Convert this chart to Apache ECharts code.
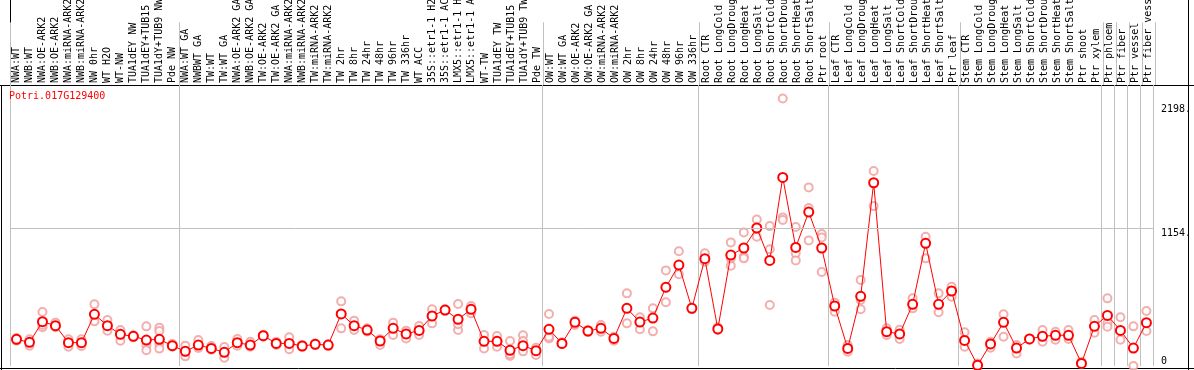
<!DOCTYPE html>
<html>
<head>
<meta charset="utf-8">
<style>
  html, body { margin: 0; padding: 0; background: #fff; }
  #chart { width: 1194px; height: 370px; }
</style>
<script src="https://cdn.jsdelivr.net/npm/echarts@6/dist/echarts.min.js"></script>
</head>
<body>
<div id="chart"></div>
<script>
const geneId = "Potri.017G129400";

const samples = [
  "NWA:WT", "NWB:WT", "NWA:OE-ARK2", "NWB:OE-ARK2", "NWA:miRNA-ARK2", "NWB:miRNA-ARK2",
  "NW 0hr", "WT H2O", "WT-NW", "TUA1dEY NW", "TUA1dEY+TUB15 NW", "TUA1dY+TUB9 NW", "Pde NW",
  "NWA:WT GA", "NWBWT GA", "TW:WT", "TW:WT GA", "NWA:OE-ARK2 GA", "NWB:OE-ARK2 GA",
  "TW:OE-ARK2", "TW:OE-ARK2 GA", "NWA:miRNA-ARK2 GA", "NWB:miRNA-ARK2 GA", "TW:miRNA-ARK2",
  "TW:miRNA-ARK2 GA", "TW 2hr", "TW 8hr", "TW 24hr", "TW 48hr", "TW 96hr", "TW 336hr",
  "WT ACC", "35S::etr1-1 H2O", "35S::etr1-1 ACC", "LMX5::etr1-1 H2O", "LMX5::etr1-1 ACC",
  "WT-TW", "TUA1dEY TW", "TUA1dEY+TUB15 TW", "TUA1dY+TUB9 TW", "Pde TW",
  "OW:WT", "OW:WT GA", "OW:OE-ARK2", "OW:OE-ARK2 GA", "OW:miRNA-ARK2", "OW:miRNA-ARK2 GA",
  "OW 2hr", "OW 8hr", "OW 24hr", "OW 48hr", "OW 96hr", "OW 336hr",
  "Root CTR", "Root LongCold", "Root LongDrought", "Root LongHeat", "Root LongSalt",
  "Root ShortCold", "Root ShortDrought", "Root ShortHeat", "Root ShortSalt", "Ptr root",
  "Leaf CTR", "Leaf LongCold", "Leaf LongDrought", "Leaf LongHeat", "Leaf LongSalt",
  "Leaf ShortCold", "Leaf ShortDrought", "Leaf ShortHeat", "Leaf ShortSalt", "Ptr leaf",
  "Stem CTR", "Stem LongCold", "Stem LongDrought", "Stem LongHeat", "Stem LongSalt",
  "Stem ShortCold", "Stem ShortDrought", "Stem ShortHeat", "Stem ShortSalt", "Ptr shoot",
  "Ptr xylem", "Ptr phloem", "Ptr fiber", "Ptr vessel", "Ptr fiber vessel"
];

const means = [
  224, 199, 372, 339, 196, 196, 434, 339, 266, 249, 218, 224, 171,
  123, 176, 148, 115, 196, 176, 255, 190, 190, 168, 182, 176, 437, 339, 302, 210, 316, 269,
  299, 420, 470, 392, 476, 207, 207, 132, 171, 129,
  308, 190, 367, 294, 316, 232, 484, 369, 403, 661, 848, 484,
  901, 311, 932, 991, 1159, 887, 1584, 996, 1293, 991,
  504, 148, 585, 1539, 288, 269, 518, 1030, 518, 630,
  215, 6, 185, 367, 151, 227, 249, 258, 258, 22,
  333, 425, 299, 151, 364
];

const replicates = [
  [235, 213], [224, 171], [453, 325, 344], [364, 325], [224, 162], [224, 168],
  [518, 375], [386, 297], [302, 213, 266], [258, 241], [333, 174, 132], [322, 294, 190, 146], [185, 162],
  [171, 81], [218, 151], [168, 137], [160, 70], [227, 171], [204, 162],
  [263, 246], [204, 176], [241, 140], [176, 162], [190, 176],
  [182, 168], [543, 316], [381, 302], [316, 290], [176, 224], [364, 260], [297, 232],
  [336, 260], [476, 358], [476, 462], [521, 302, 350], [504, 442],
  [260, 148], [252, 162], [210, 84, 98], [258, 123, 210], [154, 92],
  [437, 232, 246], [200, 182], [381, 344], [302, 286], [344, 288], [213, 246],
  [610, 358], [409, 308], [484, 291], [803, 535], [963, 770], [490, 478],
  [946, 876], [325, 302], [1038, 842, 904], [1122, 918, 904], [1231, 1086],
  [1175, 980, 512], [2247, 1248, 1226], [1167, 946, 887], [1500, 1327, 1055], [1108, 1080, 789],
  [532, 456], [176, 120], [722, 554, 476], [1637, 1343], [316, 260],
  [305, 227], [568, 484], [1086, 1030, 904], [610, 451], [666, 582],
  [283, 162], [22, 0], [204, 154], [434, 246], [176, 106],
  [232, 221], [302, 204], [288, 221], [302, 227], [36, 17],
  [386, 280], [568, 358, 330], [409, 221], [333, 0], [462, 294]
];

// first sample of each block (grey separators)
const groupStarts = [0, 13, 41, 53, 63, 73, 84, 85, 86, 87];
const yLabelValues = [1154, 2198];
const yZeroLabel = [0];
const refLine = 1154;
const yMax = 2360;

const mono = "'DejaVu Sans Mono', monospace";
const grey = "#c0c0c0";

let repPoints = [];
replicates.forEach((reps, i) => {
  reps.forEach(v => repPoints.push([i, v]));
});

const sepLine = {
  show: true,
  interval: (idx) => groupStarts.indexOf(idx) >= 0,
  lineStyle: { color: grey, width: 1 }
};

const chart = echarts.init(document.getElementById("chart"));
chart.setOption({
  animation: false,
  backgroundColor: "#fff",
  title: {
    text: geneId,
    left: 9,
    top: 91,
    padding: 0,
    textStyle: { color: "#ff0000", fontSize: 10, fontWeight: "normal", fontFamily: mono }
  },
  grid: [
    { left: 10, right: 39, top: 85, bottom: 4 },
    { left: 10, right: 39, top: 0, height: 85 }
  ],
  xAxis: [
    {
      type: "category", gridIndex: 0, data: samples,
      axisLine: { show: false }, axisTick: { show: false }, axisLabel: { show: false },
      splitLine: sepLine
    },
    {
      type: "category", gridIndex: 1, data: samples, position: "bottom",
      axisLine: { show: false }, axisTick: { show: false },
      axisLabel: {
        inside: true, rotate: 90, interval: 0, margin: 2,
        color: "#000", fontSize: 10, fontFamily: mono
      },
      splitLine: sepLine
    }
  ],
  yAxis: [
    {
      type: "value", gridIndex: 0, min: 0, max: yMax, position: "right",
      axisLine: { show: false }, axisTick: { show: false }, splitLine: { show: false },
      axisLabel: {
        customValues: yLabelValues, margin: 8, verticalAlign: "top",
        color: "#000", fontSize: 10, fontFamily: mono,
        formatter: v => v + "."
      }
    },
    {
      type: "value", gridIndex: 0, min: 0, max: yMax, position: "right",
      axisLine: { show: false }, axisTick: { show: false }, splitLine: { show: false },
      axisLabel: {
        customValues: yZeroLabel, margin: 8, verticalAlign: "bottom",
        color: "#000", fontSize: 10, fontFamily: mono
      }
    },
    { type: "value", gridIndex: 1, show: false }
  ],
  series: [
    {
      type: "scatter", xAxisIndex: 0, yAxisIndex: 0,
      data: repPoints,
      symbol: "emptyCircle", symbolSize: 8,
      itemStyle: { color: "#f09a9a", borderColor: "#f09a9a", borderWidth: 1.2 },
      markLine: {
        silent: true, symbol: "none", label: { show: false },
        lineStyle: { color: grey, type: "solid", width: 1 },
        data: [{ yAxis: refLine }]
      },
      z: 2
    },
    {
      type: "line", xAxisIndex: 0, yAxisIndex: 0,
      data: means,
      showAllSymbol: true,
      symbol: "emptyCircle", symbolSize: 9,
      lineStyle: { color: "#ff0000", width: 1 },
      itemStyle: { color: "#ff0000", borderColor: "#e00000", borderWidth: 1.6 },
      z: 3
    }
  ],
  graphic: [
    { type: "line", shape: { x1: 0, y1: 85.5, x2: 1194, y2: 85.5 }, style: { stroke: "#000", lineWidth: 1 } },
    { type: "line", shape: { x1: 1.5, y1: 85, x2: 1.5, y2: 370 }, style: { stroke: "#000", lineWidth: 1 } },
    { type: "line", shape: { x1: 0, y1: 368.5, x2: 1194, y2: 368.5 }, style: { stroke: "#000", lineWidth: 1 } },
    { type: "line", shape: { x1: 1188.5, y1: 0, x2: 1188.5, y2: 370 }, style: { stroke: "#000", lineWidth: 1 } },
    { type: "line", shape: { x1: 10.5, y1: 0, x2: 10.5, y2: 85 }, style: { stroke: "#000", lineWidth: 1 } }
  ]
});
</script>
</body>
</html>
